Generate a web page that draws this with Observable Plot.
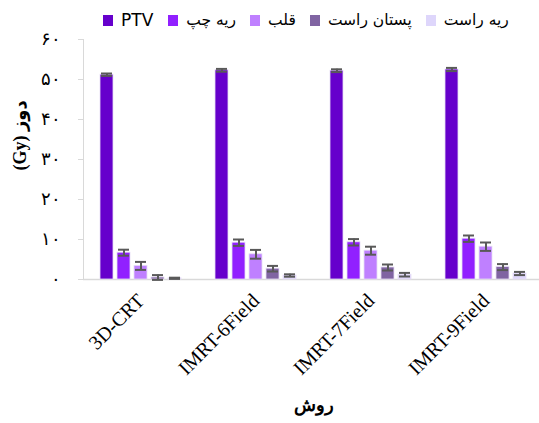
<!DOCTYPE html>
<html><head><meta charset="utf-8">
<script src="https://cdn.jsdelivr.net/npm/d3@7"></script>
<script src="https://cdn.jsdelivr.net/npm/@observablehq/plot@0.6"></script>
<style>
body{margin:0;background:#fff;font-family:"DejaVu Sans",sans-serif;}
#legend{height:30px;box-sizing:border-box;padding-top:10px;padding-left:103px;display:flex;align-items:center;font-size:15.5px;color:#000;}
#legend .item{display:flex;align-items:center;margin-right:14px;}
#legend .item:first-child{font-size:17px;margin-right:15px;}
#legend .sw{width:10px;height:11px;margin-right:8px;}
#legend .lab{white-space:nowrap;line-height:18px;}
</style></head><body>
<div id="legend"></div>
<div id="chart"></div>
<script>
const methods = ["3D-CRT", "IMRT-6Field", "IMRT-7Field", "IMRT-9Field"];
const organs = ["PTV", "ریه چپ", "قلب", "پستان راست", "ریه راست"];
const colors = ["#6600cc", "#9120ff", "#bf80ff", "#8064a2", "#ded6fb"];
// mean dose (Gy) per organ, by method
const ptv = [51.2, 52.3, 52.2, 52.5];
const leftLung = [6.7, 9.2, 9.3, 10.2];
const heart = [3.4, 6.3, 7.2, 8.2];
const rightBreast = [0.5, 2.7, 3.0, 3.1];
const rightLung = [0.3, 1.0, 1.2, 1.5];
// error bars (Gy)
const ptvErr = [0.3, 0.35, 0.35, 0.4];
const leftLungErr = [0.75, 0.8, 0.8, 0.8];
const heartErr = [1.0, 1.1, 1.0, 1.05];
const rightBreastErr = [0.6, 0.7, 0.75, 0.75];
const rightLungErr = [0.15, 0.3, 0.45, 0.4];
const yTicks = [0, 10, 20, 30, 40, 50, 60];

const values = [ptv, leftLung, heart, rightBreast, rightLung];
const errs = [ptvErr, leftLungErr, heartErr, rightBreastErr, rightLungErr];
const table = methods.flatMap((m, i) => organs.map((o, j) => ({method: m, organ: o, value: values[j][i], err: errs[j][i]})));
const fa = d => String(d).replace(/\d/g, c => "۰۱۲۳۴۵۶۷۸۹"[+c]);

// legend
const lg = document.getElementById("legend");
organs.forEach((o, j) => {
  const it = document.createElement("div"); it.className = "item";
  const sw = document.createElement("div"); sw.className = "sw"; sw.style.background = colors[j];
  const lb = document.createElement("span"); lb.className = "lab"; lb.textContent = o;
  it.appendChild(sw); it.appendChild(lb); lg.appendChild(it);
});

const chart = Plot.plot({
  width: 539, height: 393,
  marginTop: 9, marginBottom: 144, marginLeft: 82, marginRight: 0,
  style: {background: "transparent", overflow: "visible"},
  fx: {domain: methods, range: [82.5, 542.5], padding: 0, axis: null, label: null},
  x: {domain: organs, paddingInner: 0.24, paddingOuter: 0.87, axis: null},
  y: {domain: [0, 60], axis: null},
  color: {domain: organs, range: colors},
  marks: [
    Plot.ruleY([0], {stroke: "#d9d9d9", strokeWidth: 1.5}),
    Plot.barY(table, {fx: "method", x: "organ", y: "value", fill: "organ", stroke: "#e6dcf6", strokeWidth: 0.8}),
    Plot.ruleX(table, {fx: "method", x: "organ", y1: d => d.value - d.err, y2: d => d.value + d.err, stroke: "#595959", strokeWidth: 2}),
    Plot.tickY(table, {fx: "method", x: "organ", y: d => d.value + d.err, stroke: "#595959", strokeWidth: 2, insetLeft: 1, insetRight: 1}),
    Plot.tickY(table, {fx: "method", x: "organ", y: d => d.value - d.err, stroke: "#595959", strokeWidth: 2, insetLeft: 1, insetRight: 1}),
    Plot.axisY({ticks: yTicks, tickFormat: fa, tickSize: 5, tickPadding: 18, stroke: "#d9d9d9", fill: "#000", fontSize: 18, label: null}),
    Plot.ruleX([{method: methods[0]}], {fx: "method", x: null, y1: 0, y2: 60, dx: -57.5, stroke: "#d9d9d9"}),
    Plot.axisFx({anchor: "bottom", tickRotate: -45, tickSize: 0, tickPadding: 18, fontSize: 20, fontFamily: "Liberation Serif", fill: "#000", label: null}),
    Plot.text(["(Gy) دوز"], {facet: "super", frameAnchor: "left", dx: -63, dy: 11, rotate: -90, fontSize: 18, fontWeight: "bold", fontFamily: "Liberation Serif, DejaVu Sans", fill: "#000"}),
    Plot.text(["روش"], {facet: "super", frameAnchor: "bottom", dy: 131, fontSize: 18, fontWeight: "bold", fill: "#000"})
  ]
});
document.getElementById("chart").appendChild(chart);
</script>
</body></html>
